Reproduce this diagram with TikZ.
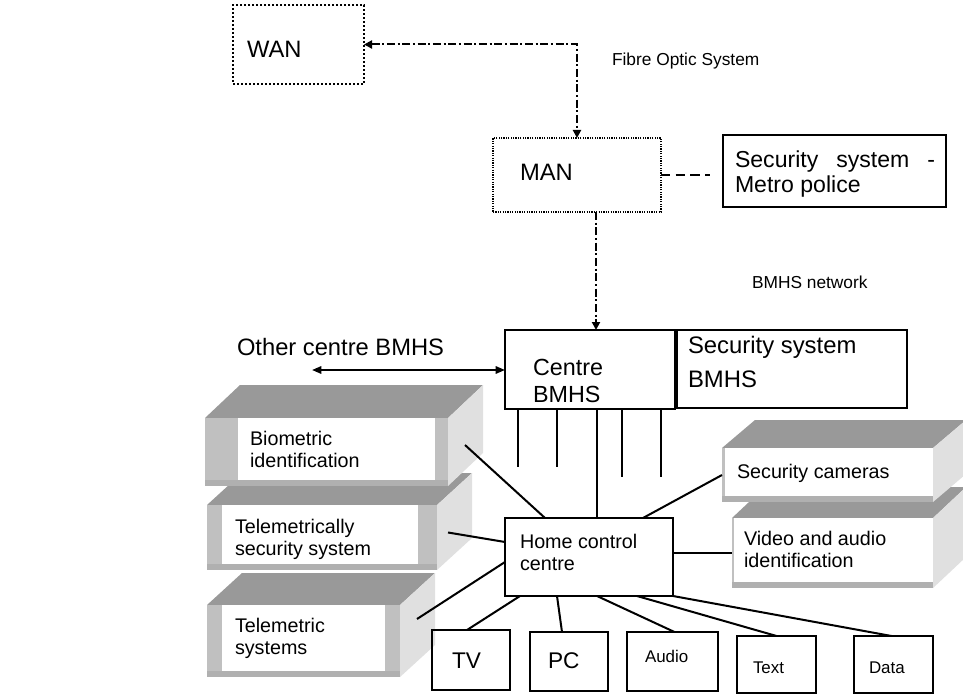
\documentclass[tikz,border=0pt]{standalone}
\usepackage{fontspec}
\setmainfont{Liberation Sans}
\usetikzlibrary{arrows.meta,calc,fit}

\definecolor{cubetop}{HTML}{999999}
\definecolor{cubeside}{HTML}{E0E0E0}
\definecolor{cubeband}{HTML}{C0C0C0}
\definecolor{cubebase}{HTML}{B0B0B0}

% two left-aligned lines whose baseline is the first line's
\newcommand{\twolines}[2]{\parbox[t]{8cm}{#1\\#2}}

% shaded block: #1 name, (#2,#3) front top-left, (#4,#5) front bottom-right,
% #6/#7 depth offset, #8/#9 widths of the left/right bands of the front face
\newcommand{\mkcube}[9]{%
  \fill[cubetop] (#2,#3) -- ({#2+#6},{#3-#7}) -- ({#4+#6},{#3-#7}) -- (#4,#3) -- cycle;
  \fill[cubeside] (#4,#3) -- ({#4+#6},{#3-#7}) -- ({#4+#6},{#5-#7}) -- (#4,#5) -- cycle;
  \fill[cubeband] (#2,#3) rectangle (#4,#5);
  \fill[cubebase] (#2,{#5-6}) rectangle (#4,#5);
  \fill[white] ({#2+#8},#3) rectangle ({#4-#9},{#5-6});
  \node[ghost, fit={(#2,#3) (#4,#5)}] (#1) {};
}

\tikzset{
  ghost/.style={inner sep=0pt, outer sep=0pt},
  txt/.style={anchor=base west, inner sep=0pt, outer sep=0pt},
  fbig/.style={font=\fontsize{17.8}{21}\selectfont},
  fcentre/.style={font=\fontsize{17.5}{20.25}\selectfont},
  fsec/.style={font=\fontsize{17.9}{25.5}\selectfont},
  fmetro/.style={font=\fontsize{17.3}{18.75}\selectfont},
  fnote/.style={font=\fontsize{13}{15}\selectfont},
  fcube/.style={font=\fontsize{14.8}{16.5}\selectfont},
  fdev/.style={font=\fontsize{17}{20}\selectfont},
  fsmall/.style={font=\fontsize{12.7}{15}\selectfont},
  framebox/.style={draw, line width=1.8pt, inner sep=0pt, outer sep=0pt},
  thinbox/.style={draw, line width=1.1pt, inner sep=0pt, outer sep=0pt},
  wanbox/.style={draw, line width=1.5pt, dash pattern=on 1.5pt off 1.5pt, inner sep=0pt, outer sep=0pt},
  manbox/.style={draw, line width=0.9pt, dash pattern=on 0.9pt off 0.9pt, inner sep=0pt, outer sep=0pt},
  link/.style={line width=1.5pt},
  dashdot/.style={line width=1.5pt, dash pattern=on 6pt off 2pt on 1.5pt off 2pt},
  dashline/.style={line width=1.5pt, dash pattern=on 7pt off 4pt},
  tip/.tip={Triangle[length=6pt,width=6pt]},
  smalltip/.tip={Triangle[length=7pt,width=5.5pt]},
}

\begin{document}
\begin{tikzpicture}[x=0.75pt,y=-0.75pt]
\useasboundingbox (0,0) rectangle (963,695);
\clip (0,0) rectangle (963,695);
\fill[white] (0,0) rectangle (963,695);

% ---------- wide and metropolitan networks ----------
\node[wanbox, fit={(233,5) (364,84)}] (wan) {};
\node[txt, fbig] (wantxt) at (247,58) {WAN};

\node[manbox, fit={(493,138) (661,212)}] (man) {};
\node[txt, fbig] (mantxt) at (520,181) {MAN};

\node[thinbox, fit={(723,135) (946,207)}] (metro) {};
\node[txt, fmetro] (metrotxt) at (735,168)
  {\parbox[t]{8cm}{\makebox[150pt][s]{Security system -}\\Metro police}};

\node[txt, fnote] (fibretxt) at (612,66) {Fibre Optic System};
\node[txt, fnote] (bmhsnet) at (752,288) {BMHS network};

\draw[dashdot, tip-tip] (wan.east) -- (wan.east -| man.north) -- (man.north);
\draw[dashline, shorten >=10pt] (man.east) -- (man.east -| metro.west);

% ---------- BMHS centre ----------
\node[framebox, line width=1.5pt, fit={(505,330) (675,409)}] (centre) {};
\node[txt, fcentre] (centretxt) at (533,375) {\twolines{Centre}{BMHS}};
\node[framebox, line width=2pt, fit={(677,330) (907,408)}] (secbmhs) {};
\node[txt, fsec] (sectxt) at (688,353) {\twolines{Security system}{BMHS}};

\coordinate (droplane) at (596,0);
\draw[dashdot, -tip] (man.south -| droplane) -- (centre.north -| droplane);

\coordinate (otherend) at (312,370);
\draw[link, smalltip-smalltip] (otherend) -- (otherend -| centre.west);
\node[txt, fbig] (othertxt) at (237,355) {Other centre BMHS};

\coordinate (stubA) at (518,467);
\coordinate (stubB) at (557,467);
\coordinate (stubC) at (622,477);
\coordinate (stubD) at (661,477);
\foreach \s in {stubA,stubB,stubC,stubD}
  \draw[link] (\s |- centre.south) -- (\s);

% ---------- shaded blocks ----------
\mkcube{telsys}{207}{605}{400}{677}{35}{32}{15}{15}
\mkcube{telly}{207}{505}{437}{570}{35}{32}{15}{19}
\mkcube{bio}{205}{418}{448}{486}{35}{33}{33}{13}
\mkcube{video}{732}{518}{933}{588}{33}{31}{2}{0}
\mkcube{cams}{722}{448}{933}{502}{33}{28}{3}{0}

\node[txt, fcube] (biotxt) at (250,445) {\twolines{Biometric}{identification}};
\node[txt, fcube] (tellytxt) at (235,533) {\twolines{Telemetrically}{security system}};
\node[txt, fcube] (telsystxt) at (235,632) {\twolines{Telemetric}{systems}};
\node[txt, fcube] (camstxt) at (737,478) {Security cameras};
\node[txt, fcube] (videotxt) at (744,545) {\twolines{Video and audio}{identification}};

% ---------- home control centre ----------
\node[framebox, line width=2pt, fill=white, fit={(505,518) (673,596)}] (hcc) {};
\node[txt, fcube] (hcctxt) at (520,548) {\twolines{Home control}{centre}};

\draw[link] ($(centre.south)+(7,0)$) -- ($(hcc.north)+(8,0)$);

\draw[link] ($(bio.east)+(17,-7)$) -- ($(hcc.north)+(-44,0)$);
\draw[link] ($(telly.east)+(11,-5)$) -- ($(hcc.west)+(0,-15)$);
\draw[link] ($(telsys.east)+(17,-22)$) -- ($(hcc.west)+(0,5)$);
\draw[link] ($(hcc.north)+(54,0)$) -- (cams.west);
\draw[link] ($(hcc.east)+(0,-4)$) -- (video.west);

% ---------- end devices ----------
\node[framebox, line width=1.7pt, fit={(432,630) (510,690)}] (tv) {};
\node[framebox, line width=1.7pt, fit={(530,632) (608,691)}] (pc) {};
\node[framebox, line width=1.7pt, fit={(627,632) (718,691)}] (audio) {};
\node[framebox, line width=1.7pt, fit={(737,636) (816,693)}] (text) {};
\node[framebox, line width=1.7pt, fit={(854,636) (933,693)}] (data) {};

\node[txt, fdev] (tvtxt) at (452,668) {TV};
\node[txt, fdev] (pctxt) at (548,668) {PC};
\node[txt, fsmall] (audiotxt) at (645,662) {Audio};
\node[txt, fsmall] (texttxt) at (753,673) {Text};
\node[txt, fsmall] (datatxt) at (869,673) {Data};

\draw[link] ($(hcc.south)+(-69,0)$) -- ($(tv.north)+(-4,0)$);
\draw[link] ($(hcc.south)+(-32,0)$) -- ($(pc.north)+(-7,0)$);
\draw[link] ($(hcc.south)+(8,0)$) -- ($(audio.north)+(2,0)$);
\draw[link] ($(hcc.south)+(48,0)$) -- (text.north);
\draw[link] (hcc.south east) -- ($(data.north)+(-2,0)$);
\end{tikzpicture}
\end{document}
